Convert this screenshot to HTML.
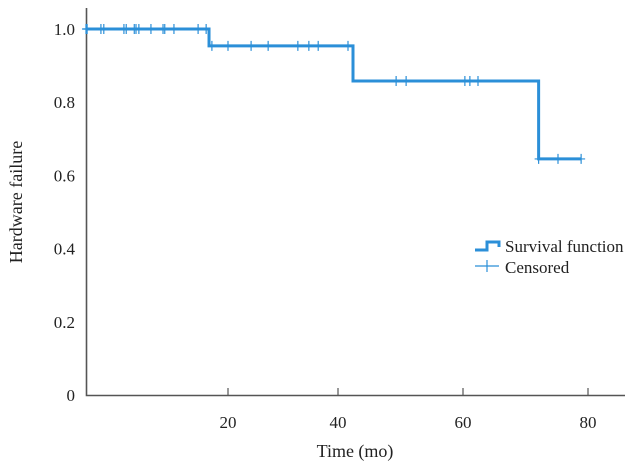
<!DOCTYPE html>
<html><head><meta charset="utf-8"><style>
html,body{margin:0;padding:0;background:#fff;width:637px;height:463px;overflow:hidden}
text{font-family:"Liberation Serif",serif;fill:#222}
</style></head><body>
<svg id="chart" width="637" height="463" viewBox="0 0 637 463" xmlns="http://www.w3.org/2000/svg"></svg>
<script>
const stepTimes = [-5, 16.7, 42.4, 72.1];
const stepSurv = [1.0, 0.954, 0.858, 0.645];
const endTime = 78.9;
const censorTimes = [-4.7,-4.5,-2.1,-1.6,1.9,2.3,3.7,4.0,4.5,6.6,8.7,9.0,10.6,14.8,16.2,
  17.2,20,24.2,27.3,32.7,34.7,36.4,41.6,
  49.3,50.9,60.3,61.1,62.4,
  72.1,75.2,78.9];
const xTicks = [20,40,60,80];
const yTicks = [0,0.2,0.4,0.6,0.8,1.0];
const yTickLabels = ["0","0.2","0.4","0.6","0.8","1.0"];

const NS="http://www.w3.org/2000/svg";
const svg=document.getElementById('chart');
const xKnots=[0,20,40,60,80,100], pxKnots=[113,228,338,463,588,714];
function xs(v){
  if(v<=20) return 228+(v-20)*5.75;
  for(let i=1;i<xKnots.length-1;i++){ if(v<=xKnots[i+1]) return pxKnots[i]+(v-xKnots[i])*(pxKnots[i+1]-pxKnots[i])/20; }
  return 588+(v-80)*6.3;
}
function ys(v){return 395-v*366;}
function survAt(t){let s=stepSurv[0];for(let i=0;i<stepTimes.length;i++){if(t>=stepTimes[i]-1e-9)s=stepSurv[i];}return s;}
function el(tag,attrs,parent){const e=document.createElementNS(NS,tag);for(const k in attrs)e.setAttribute(k,attrs[k]);(parent||svg).appendChild(e);return e;}

const ax=el('path',{d:'M86.5 8 V395.5 H625',fill:'none',stroke:'#555','stroke-width':1.6});


xTicks.forEach(t=>{
  const x=xs(t);
  const tk=el('line',{x1:x,x2:x,y1:388,y2:395,stroke:'#555','stroke-width':1.2});
  
  
  const lb=el('text',{x:x,y:428,'text-anchor':'middle','font-size':17});
  lb.textContent=t;
  
  
});
yTicks.forEach((t,i)=>{
  const lb=el('text',{x:75,y:ys(t)+6,'text-anchor':'end','font-size':17});
  lb.textContent=yTickLabels[i];
  
  
});
const xt=el('text',{x:355,y:457,'text-anchor':'middle','font-size':18});
xt.textContent='Time (mo)';


const yt=el('text',{x:0,y:0,'text-anchor':'middle','font-size':18,transform:'translate(22,202) rotate(-90)'});
yt.textContent='Hardware failure';



let d='M'+Math.max(86,xs(stepTimes[0]))+' '+ys(stepSurv[0]);
for(let i=1;i<stepTimes.length;i++){d+=' H'+xs(stepTimes[i])+' V'+ys(stepSurv[i]);}
d+=' H'+xs(endTime);
const line=el('path',{d:d,fill:'none',stroke:'#2b8fd8','stroke-width':3});



censorTimes.forEach(t=>{
  const x=xs(t), y=ys(survAt(t));
  const c=el('path',{d:`M${x} ${y-5} V${y+5} M${x-4} ${y} H${x+4}`,stroke:'#2b8fd8','stroke-width':1.2});
  
  
});

const lg=el('g',{});


const l1=el('path',{d:'M475 250 H487 V242 H499 V247',fill:'none',stroke:'#2b8fd8','stroke-width':3},lg);


const t1=el('text',{x:505,y:252,'font-size':17},lg);
t1.textContent='Survival function';


const l2=el('path',{d:'M475 266 H499 M487 260 V272',stroke:'#2b8fd8','stroke-width':1.2},lg);


const t2=el('text',{x:505,y:273,'font-size':17},lg);
t2.textContent='Censored';


</script>
</body></html>
